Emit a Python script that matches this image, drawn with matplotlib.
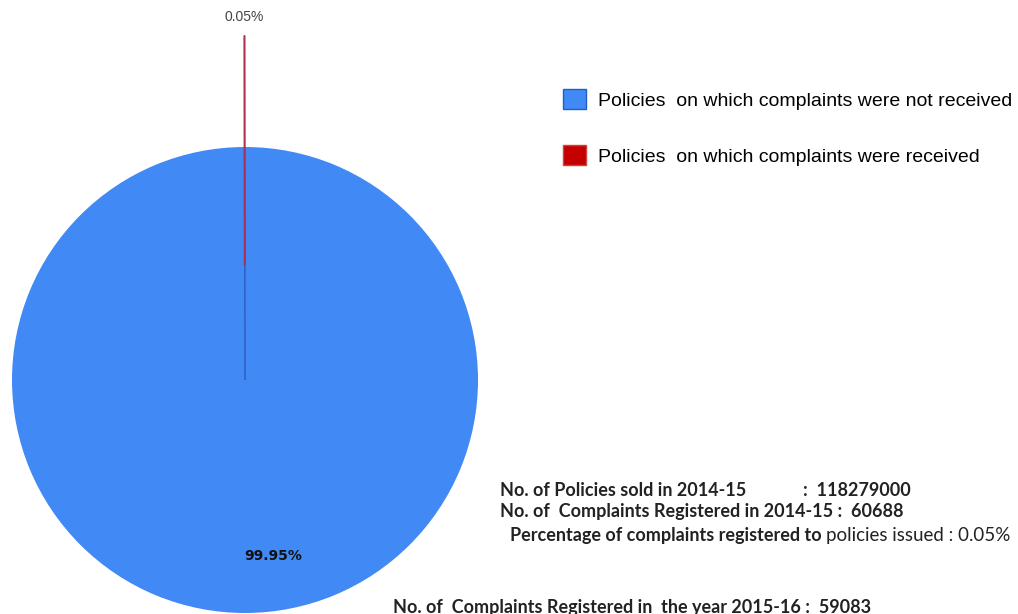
import numpy as np
import matplotlib.pyplot as plt

# data
labels = ["Policies  on which complaints were not received",
          "Policies  on which complaints were received"]
shares = [99.95, 0.05]
colors = ["#4189f5", "#c40000"]
pct_labels = ["99.95%", "0.05%"]

sold_line = ("No. of Policies sold in 2014-15", ":  118279000")
reg_line = "No. of  Complaints Registered in 2014-15 :  60688"
pct_line = ("Percentage of complaints registered to ", "policies issued : 0.05%")
bottom_line = "No. of  Complaints Registered in  the year 2015-16 :  59083"

plt.rcParams['font.family'] = ['Liberation Sans', 'DejaVu Sans']

fig = plt.figure(figsize=(10.18, 6.14), dpi=100)
ax = fig.add_axes([245/1018 - 233/1018, 1/614, 466/1018, 466/614])
wedges, _ = ax.pie(shares, colors=colors, startangle=90, counterclock=False,
                   wedgeprops=dict(linewidth=0))
ax.set_xlim(-1, 1)
ax.set_ylim(-1, 1)
ax.set_aspect('equal')
ax.axis('off')

# red sliver edge (darker line from centre)
w_red = wedges[1]
ang = np.deg2rad((w_red.theta1 + w_red.theta2) / 2)
ax.plot([0, np.cos(ang)], [0, np.sin(ang)], color="#2f62c8", lw=1.2,
        solid_capstyle='butt', clip_on=False)

# big slice label
w_blue = wedges[0]
ang_b = np.deg2rad((w_blue.theta1 + w_blue.theta2) / 2)
ax.text(0.755 * np.cos(ang_b) + 0.12, 0.755 * np.sin(ang_b), pct_labels[0],
        ha='center', va='center', fontsize=10, fontweight='bold',
        color="#111111", family=['DejaVu Sans'])

# small slice label with leader line
ax.annotate(pct_labels[1], xy=(0.494 * np.cos(ang), 0.494 * np.sin(ang)),
            xytext=(1.56 * np.cos(ang), 1.56 * np.sin(ang)),
            ha='center', va='center', fontsize=10, color="#444444",
            annotation_clip=False,
            arrowprops=dict(arrowstyle='-', color="#b03050", lw=1.5,
                            shrinkA=7, shrinkB=0))

leg = fig.legend(wedges, labels, loc='upper left',
                 bbox_to_anchor=(545/1018, 1 - 72/614), frameon=False,
                 fontsize=14, handlelength=1.2, handleheight=1.2,
                 handletextpad=0.65, labelspacing=1.8)
for h in leg.legend_handles:
    h.set_edgecolor("#1f5fc8" if h.get_facecolor()[2] > 0.5 else "#d04040")
    h.set_linewidth(1)

info_font = dict(fontsize=13, fontweight='bold', color="#222222",
                 family=['Lato', 'DejaVu Sans'])
fig.text(500/1018, 1 - 490/614, sold_line[0], va='center', **info_font)
fig.text(803/1018, 1 - 490/614, sold_line[1], va='center', **info_font)
fig.text(500/1018, 1 - 512/614, reg_line, va='center', **info_font)
t = fig.text(510/1018, 1 - 535/614, pct_line[0], va='center', **info_font)
fig.canvas.draw()
bb = t.get_window_extent()
fig.text(bb.x1 / 1018, 1 - 535/614, pct_line[1], va='center', fontsize=13.5,
         color="#222222", family=['Lato', 'DejaVu Sans'])
fig.text(393/1018, 1 - 607/614, bottom_line, va='center', **info_font)

fig.savefig("out.png", dpi=100)
